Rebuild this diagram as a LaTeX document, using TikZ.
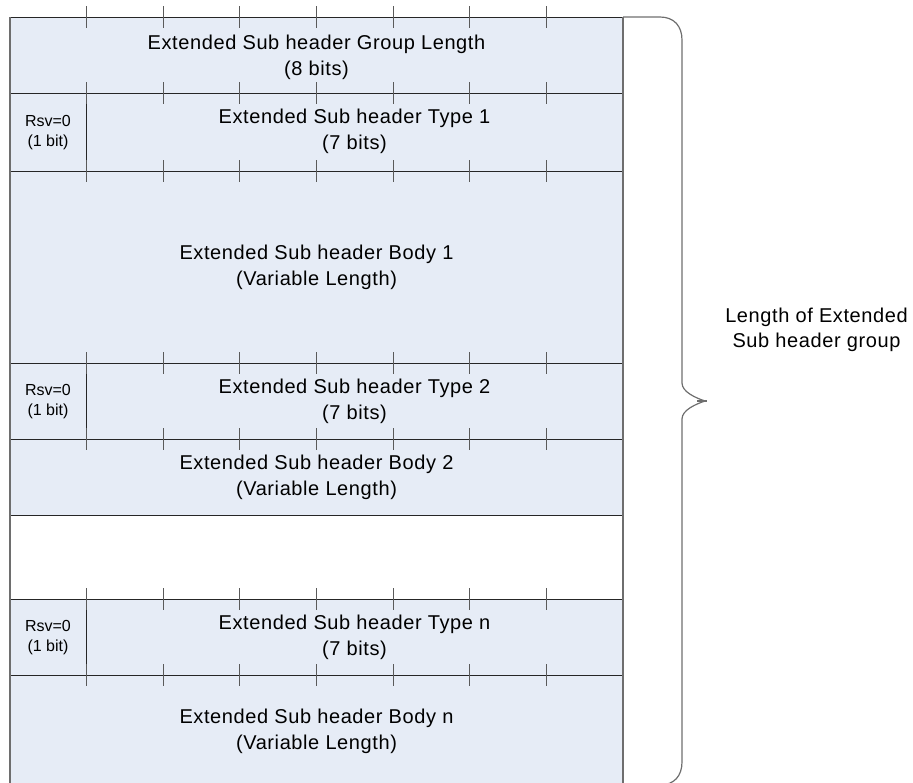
\documentclass[tikz,border=0pt]{standalone}
\usepackage{fontspec}
\setmainfont{Liberation Sans}
\newfontfamily\lblfont[LetterSpace=3]{Liberation Sans}
\definecolor{cellfill}{HTML}{E6ECF6}
\definecolor{rulec}{HTML}{262626}
\definecolor{tickc}{HTML}{5A5A5A}
\definecolor{framec}{HTML}{6E6E6E}
\begin{document}
\begin{tikzpicture}[x=1pt,y=-1pt,
  hline/.style={draw=rulec,line width=1pt},
  tickline/.style={draw=tickc,line width=0.9pt},
  frameline/.style={draw=framec,line width=1.5pt},
  bracel/.style={draw=framec,line width=1.2pt},
  bigtxt/.style={align=center,inner sep=0pt,font=\lblfont\fontsize{20}{26}\selectfont},
  rsvtxt/.style={align=center,inner sep=0pt,font=\fontsize{16}{20}\selectfont},
  sidetxt/.style={align=center,inner sep=0pt,font=\lblfont\fontsize{20}{25}\selectfont}]
\useasboundingbox (0,0) rectangle (913,782);
\clip (0,0) rectangle (913,782);
% cell fills
\fill[cellfill] (10,17) rectangle (623,515);
\fill[cellfill] (10,599) rectangle (623,795);
% horizontal rules
\foreach \yy in {17,93,171,363,439,515,599,675}
  \draw[hline] (10,\yy) -- (623,\yy);
% Rsv dividers
\foreach \ya/\yb in {93/171,363/439,599/675}
  \draw[hline] (86.6,\ya) -- (86.6,\yb);
% bit ticks
\foreach \yy in {17,93,171,363,439,599,675}
  \foreach \k in {1,...,7}
    \draw[tickline] ({10+76.625*\k},{\yy-11}) -- ({10+76.625*\k},{\yy+11});
% outer frame
\draw[frameline] (10,17) -- (10,795);
\draw[frameline] (623,17) -- (623,795);
% brace
\draw[bracel] (623,17) -- (660,17) .. controls (674,17) and (682,26) .. (682,40)
  -- (682,383) .. controls (682,392) and (696,398) .. (705,401)
  .. controls (696,404) and (682,410) .. (682,419)
  -- (682,762) .. controls (682,776) and (674,785) .. (660,785) -- (623,785);
\draw[bracel] (697,401) -- (707,401);
% texts
\node[bigtxt] (grp) at (316.5,57) {Extended Sub header Group Length\\(8 bits)};
\node[bigtxt] (typ1) at (354.5,131) {Extended Sub header Type 1\\(7 bits)};
\node[bigtxt] (body1) at (316.5,267) {Extended Sub header Body 1\\(Variable Length)};
\node[bigtxt] (typ2) at (354.5,401) {Extended Sub header Type 2\\(7 bits)};
\node[bigtxt] (body2) at (316.5,477) {Extended Sub header Body 2\\(Variable Length)};
\node[bigtxt] (typn) at (354.5,637) {Extended Sub header Type n\\(7 bits)};
\node[bigtxt] (bodyn) at (316.5,731) {Extended Sub header Body n\\(Variable Length)};
\node[rsvtxt] (rsv1) at (48,133) {Rsv=0\\(1 bit)};
\node[rsvtxt] (rsv2) at (48,402) {Rsv=0\\(1 bit)};
\node[rsvtxt] (rsvn) at (48,638) {Rsv=0\\(1 bit)};
\node[sidetxt] (side) at (816.5,330) {Length of Extended\\Sub header group};
\end{tikzpicture}
\end{document}
